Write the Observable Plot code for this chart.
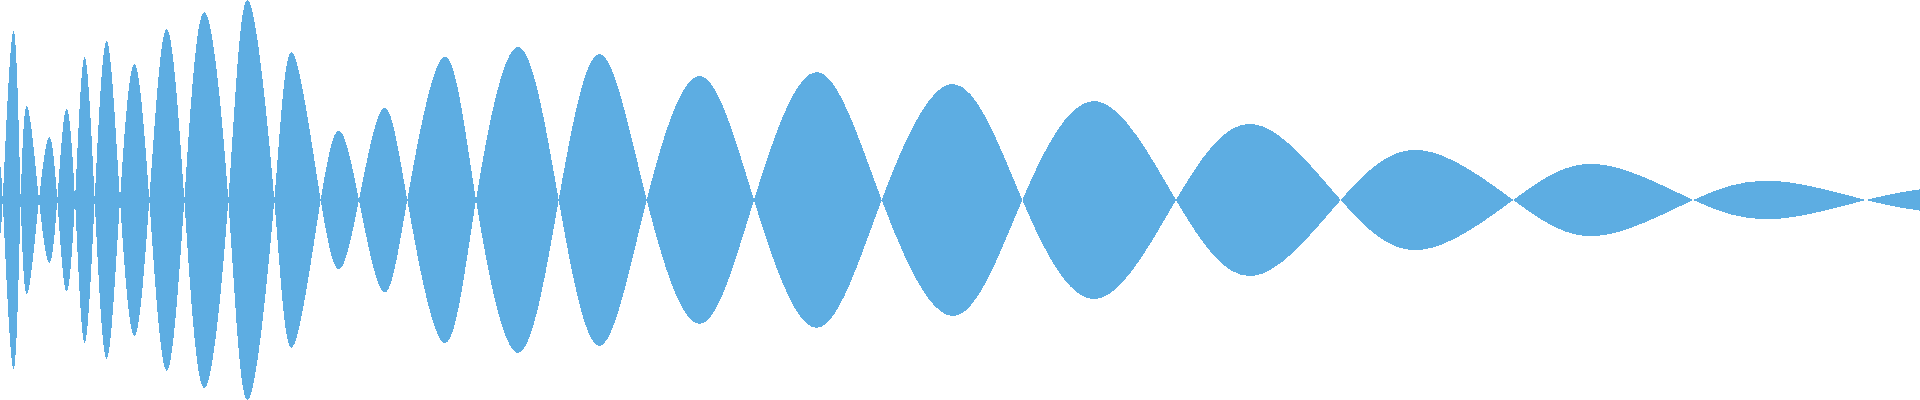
<!DOCTYPE html>
<html>
<head>
<meta charset="utf-8">
<script src="https://cdn.jsdelivr.net/npm/d3@7"></script>
<script src="https://cdn.jsdelivr.net/npm/@observablehq/plot@0.6"></script>
<style>
  html, body { margin: 0; padding: 0; background: #fff; }
</style>
</head>
<body>
<div id="chart"></div>
<script>
// Sample positions (time units) of zero crossings and lobe peaks
const times = [
  0, 2.7, 13.3, 20.7, 27.7, 39, 49.3, 57.3, 66, 75, 84.3, 94.7, 106.7, 120,
  134.3, 149.3, 166.3, 184.3, 204, 228.3, 247.7, 274.3, 292.7, 320.7, 340, 359,
  383.3, 407.3, 444, 476, 518, 558.7, 600, 646.7, 700, 754, 816.7, 881.7, 954,
  1022.3, 1096, 1176, 1253.3, 1340.7, 1420, 1513.3, 1596, 1693.3, 1775, 1866, 1920
];
// Signed amplitude at each sample (0 at crossings)
const amplitudes = [
  0.08, 0, -0.845, 0, 0.465, 0, -0.315, 0, 0.455, 0, -0.715, 0, 0.795, 0,
  -0.68, 0, 0.855, 0, -0.94, 0, 1.0, 0, -0.735, 0, 0.345, 0,
  -0.46, 0, 0.715, 0, -0.765, 0, 0.73, 0, -0.62, 0, 0.64, 0, -0.58,
  0, 0.495, 0, -0.38, 0, 0.25, 0, -0.18, 0, 0.095, 0, -0.053
];
const xDomain = [0, 1920];
const yDomain = [-1, 1];

const data = times.map((t, i) => ({t, a: amplitudes[i]}));

const chart = Plot.plot({
  width: 1920,
  height: 400,
  margin: 0,
  x: {domain: xDomain, axis: null},
  y: {domain: yDomain, axis: null},
  marks: [
    Plot.areaY(data, {
      x: "t",
      y1: d => -d.a,
      y2: d => d.a,
      curve: "natural",
      fill: "#5dade2",
      shapeRendering: "crispEdges"
    })
  ]
});
document.getElementById("chart").appendChild(chart);
</script>
</body>
</html>
